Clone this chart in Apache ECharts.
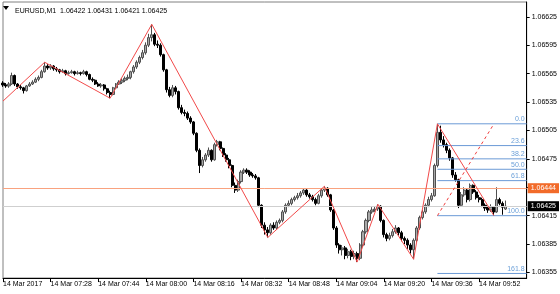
<!DOCTYPE html>
<html><head><meta charset="utf-8">
<script src="https://cdn.jsdelivr.net/npm/echarts@6/dist/echarts.min.js"></script>
<style>html,body{margin:0;padding:0;background:#fff}#c{width:560px;height:294px}</style>
</head><body><div id="c"></div>
<script>
// ---------- data ----------
const symbolTitle = 'EURUSD,M1';
const lastQuote = ['1.06422', '1.06431', '1.06421', '1.06425'];
const slotCount = 177; // minute slots visible (incl. empty right shift)
const xTickLabels = ['14 Mar 2017', '14 Mar 07:28', '14 Mar 07:44', '14 Mar 08:00', '14 Mar 08:16',
  '14 Mar 08:32', '14 Mar 08:48', '14 Mar 09:04', '14 Mar 09:20', '14 Mar 09:36', '14 Mar 09:52'];
const yLabelValues = [1.06355, 1.06385, 1.06415, 1.06475, 1.06505, 1.06535, 1.06565, 1.06595, 1.06625];
const yTickValues = [1.06355, 1.06385, 1.06415, 1.06445, 1.06475, 1.06505, 1.06535, 1.06565, 1.06595, 1.06625];
const yMin = 1.063492, yMax = 1.066406;

const opens = [
1.06555,1.06553,1.06552,1.06554,1.06563,1.06554,1.06551,1.06550,1.06547,1.06552,
1.06554,1.06556,1.06559,1.06561,1.06567,1.06573,1.06571,1.06573,1.06570,1.06569,
1.06567,1.06568,1.06565,1.06566,1.06567,1.06565,1.06566,1.06565,1.06567,1.06564,
1.06559,1.06558,1.06554,1.06552,1.06553,1.06549,1.06545,1.06543,1.06550,1.06554,
1.06556,1.06558,1.06560,1.06561,1.06567,1.06572,1.06577,1.06582,1.06587,1.06595,
1.06603,1.06606,1.06596,1.06595,1.06585,1.06569,1.06548,1.06542,1.06550,1.06546,
1.06529,1.06524,1.06523,1.06518,1.06514,1.06502,1.06484,1.06468,1.06474,1.06479,
1.06484,1.06474,1.06490,1.06493,1.06486,1.06479,1.06474,1.06468,1.06447,1.06442,
1.06451,1.06461,1.06463,1.06461,1.06458,1.06457,1.06455,1.06426,1.06405,1.06400,
1.06397,1.06405,1.06402,1.06408,1.06410,1.06419,1.06426,1.06428,1.06432,1.06434,
1.06436,1.06439,1.06442,1.06437,1.06435,1.06432,1.06428,1.06436,1.06442,1.06444,
1.06437,1.06421,1.06402,1.06384,1.06379,1.06381,1.06373,1.06377,1.06372,1.06375,
1.06370,1.06384,1.06398,1.06410,1.06419,1.06421,1.06422,1.06425,1.06410,1.06395,
1.06391,1.06394,1.06398,1.06402,1.06397,1.06391,1.06389,1.06384,1.06379,1.06389,
1.06402,1.06413,1.06419,1.06426,1.06432,1.06436,1.06468,1.06503,1.06495,1.06490,
1.06484,1.06476,1.06458,1.06453,1.06426,1.06437,1.06442,1.06432,1.06447,1.06440,
1.06434,1.06432,1.06426,1.06423,1.06421,1.06424,1.06419,1.06432,1.06428,1.06422];
const closes = [
1.06553,1.06552,1.06554,1.06563,1.06554,1.06551,1.06550,1.06547,1.06552,1.06554,
1.06556,1.06559,1.06561,1.06567,1.06573,1.06571,1.06573,1.06570,1.06569,1.06567,
1.06568,1.06565,1.06566,1.06567,1.06565,1.06566,1.06565,1.06567,1.06564,1.06559,
1.06558,1.06554,1.06552,1.06553,1.06549,1.06545,1.06543,1.06550,1.06554,1.06556,
1.06558,1.06560,1.06561,1.06567,1.06572,1.06577,1.06582,1.06587,1.06595,1.06603,
1.06606,1.06596,1.06595,1.06585,1.06569,1.06548,1.06542,1.06550,1.06546,1.06529,
1.06524,1.06523,1.06518,1.06514,1.06502,1.06484,1.06468,1.06474,1.06479,1.06484,
1.06474,1.06490,1.06493,1.06486,1.06479,1.06474,1.06468,1.06447,1.06442,1.06451,
1.06461,1.06463,1.06461,1.06458,1.06457,1.06455,1.06426,1.06405,1.06400,1.06397,
1.06405,1.06402,1.06408,1.06410,1.06419,1.06426,1.06428,1.06432,1.06434,1.06436,
1.06439,1.06442,1.06437,1.06435,1.06432,1.06428,1.06436,1.06442,1.06444,1.06437,
1.06421,1.06402,1.06384,1.06379,1.06381,1.06373,1.06377,1.06372,1.06375,1.06370,
1.06384,1.06398,1.06410,1.06419,1.06421,1.06422,1.06425,1.06410,1.06395,1.06391,
1.06394,1.06398,1.06402,1.06397,1.06391,1.06389,1.06384,1.06379,1.06389,1.06402,
1.06413,1.06419,1.06426,1.06432,1.06436,1.06468,1.06503,1.06495,1.06490,1.06484,
1.06476,1.06458,1.06453,1.06426,1.06437,1.06442,1.06432,1.06447,1.06440,1.06434,
1.06432,1.06426,1.06423,1.06421,1.06424,1.06419,1.06432,1.06428,1.06424,1.06425];
const highs = [
1.06557,1.06555,1.06556,1.06566,1.06564,1.06555,1.06553,1.06551,1.06553,1.06556,
1.06558,1.06561,1.06563,1.06569,1.06577,1.06575,1.06575,1.06574,1.06572,1.06570,
1.06570,1.06569,1.06568,1.06569,1.06568,1.06568,1.06567,1.06569,1.06568,1.06565,
1.06561,1.06559,1.06556,1.06555,1.06554,1.06550,1.06547,1.06551,1.06555,1.06558,
1.06560,1.06562,1.06564,1.06568,1.06574,1.06579,1.06584,1.06590,1.06598,1.06607,
1.06617,1.06608,1.06600,1.06597,1.06586,1.06570,1.06551,1.06553,1.06552,1.06547,
1.06532,1.06527,1.06525,1.06520,1.06515,1.06503,1.06486,1.06477,1.06481,1.06487,
1.06485,1.06492,1.06495,1.06494,1.06487,1.06481,1.06476,1.06469,1.06450,1.06453,
1.06463,1.06465,1.06465,1.06463,1.06460,1.06459,1.06456,1.06427,1.06408,1.06403,
1.06407,1.06408,1.06410,1.06412,1.06421,1.06428,1.06431,1.06434,1.06436,1.06439,
1.06441,1.06444,1.06443,1.06439,1.06437,1.06434,1.06438,1.06444,1.06446,1.06445,
1.06438,1.06422,1.06404,1.06386,1.06384,1.06383,1.06380,1.06379,1.06378,1.06377,
1.06386,1.06400,1.06412,1.06421,1.06424,1.06425,1.06427,1.06426,1.06411,1.06397,
1.06397,1.06401,1.06405,1.06403,1.06399,1.06393,1.06391,1.06386,1.06391,1.06404,
1.06415,1.06421,1.06428,1.06435,1.06439,1.06470,1.06512,1.06510,1.06499,1.06492,
1.06486,1.06477,1.06461,1.06454,1.06440,1.06445,1.06444,1.06449,1.06448,1.06442,
1.06437,1.06434,1.06428,1.06425,1.06427,1.06425,1.06445,1.06434,1.06430,1.06431];
const lows = [
1.06551,1.06550,1.06550,1.06553,1.06552,1.06549,1.06548,1.06544,1.06546,1.06551,
1.06553,1.06555,1.06557,1.06560,1.06566,1.06569,1.06569,1.06568,1.06567,1.06565,
1.06566,1.06563,1.06564,1.06565,1.06563,1.06564,1.06563,1.06564,1.06562,1.06558,
1.06556,1.06553,1.06551,1.06550,1.06547,1.06543,1.06539,1.06542,1.06549,1.06553,
1.06554,1.06556,1.06558,1.06559,1.06565,1.06570,1.06575,1.06580,1.06585,1.06593,
1.06599,1.06594,1.06592,1.06583,1.06567,1.06545,1.06540,1.06540,1.06543,1.06527,
1.06522,1.06520,1.06516,1.06512,1.06500,1.06482,1.06460,1.06466,1.06472,1.06477,
1.06472,1.06473,1.06488,1.06484,1.06477,1.06472,1.06465,1.06445,1.06439,1.06440,
1.06449,1.06459,1.06459,1.06456,1.06455,1.06453,1.06424,1.06402,1.06395,1.06392,
1.06395,1.06400,1.06400,1.06406,1.06408,1.06417,1.06424,1.06426,1.06430,1.06432,
1.06434,1.06437,1.06435,1.06433,1.06430,1.06426,1.06427,1.06434,1.06440,1.06435,
1.06419,1.06400,1.06381,1.06375,1.06373,1.06369,1.06370,1.06368,1.06369,1.06366,
1.06368,1.06382,1.06396,1.06408,1.06417,1.06419,1.06420,1.06408,1.06392,1.06388,
1.06389,1.06392,1.06396,1.06394,1.06388,1.06385,1.06380,1.06375,1.06369,1.06387,
1.06400,1.06411,1.06417,1.06424,1.06430,1.06435,1.06466,1.06492,1.06487,1.06481,
1.06473,1.06455,1.06451,1.06423,1.06425,1.06435,1.06429,1.06430,1.06438,1.06432,
1.06429,1.06424,1.06420,1.06418,1.06419,1.06415,1.06418,1.06426,1.06416,1.06421];

const zigIdx = [0, 14, 36, 50, 89, 108, 119, 126, 138, 146, 165];
const zigVal = [1.06536, 1.06577, 1.06539, 1.06617, 1.06392, 1.06446, 1.06366, 1.06427, 1.06369, 1.06512, 1.06415];

const fibLevels = ['0.0', '23.6', '38.2', '50.0', '61.8', '100.0', '161.8'];
const fibPrices = [1.06512, 1.06489, 1.06475, 1.06464, 1.06452, 1.06415, 1.06354];
const fibStartIdx = 146, fibEndIdx = 176;
const fibTrendIdx = [146, 165];
const fibTrendVal = [1.06415, 1.06512];

const alertPrice = 1.06444;
const bidPrice = 1.06425;

// ---------- chart ----------
const FONT = "'Liberation Sans', Arial, sans-serif";
const FIB_LINE = '#6b9ad6';
const categories = [];
for (let i = 0; i < slotCount; i++) categories.push(String(i));
const candleData = opens.map((o, i) => [o, closes[i], lows[i], highs[i]]);
const zigData = zigIdx.map((x, i) => [x, zigVal[i]]);
const isTick = (i) => i % 16 === 0 && i / 16 < xTickLabels.length;

const priceLabel = (bg) => ({ show: true, position: 'end', distance: 1, color: '#fff', backgroundColor: bg,
  padding: [2, 3, 1, 3], fontSize: 7, fontFamily: FONT });

const priceMarks = [
  [{ coord: [0, alertPrice], lineStyle: { color: '#f9a27f', width: 1, type: 'solid' },
     label: Object.assign(priceLabel('#f26b2a'), { formatter: alertPrice.toFixed(5) }) },
   { coord: [fibEndIdx, alertPrice] }],
  [{ coord: [0, bidPrice], lineStyle: { color: '#cfcfcf', width: 1, type: 'solid' },
     label: Object.assign(priceLabel('#000000'), { formatter: bidPrice.toFixed(5) }) },
   { coord: [fibEndIdx, bidPrice] }]
];

const fibSeries = fibLevels.map((lv, k) => ({
  type: 'line', symbol: 'none', z: 4, silent: true,
  color: FIB_LINE,
  lineStyle: { color: FIB_LINE, width: 1 },
  endLabel: { show: true, formatter: lv, distance: 0, align: 'right', verticalAlign: 'bottom', offset: [-2, -1],
              color: '#6a9fd8', fontSize: 7, fontFamily: FONT },
  data: [[fibStartIdx, fibPrices[k]], [fibEndIdx, fibPrices[k]]]
}));

const chart = echarts.init(document.getElementById('c'), null, { renderer: 'canvas', width: 560, height: 294 });
chart.setOption({
  animation: false,
  backgroundColor: '#ffffff',
  title: {
    text: symbolTitle + '  ' + lastQuote.join(' '),
    left: 10, top: 3,
    textStyle: { fontSize: 7, fontWeight: 'normal', color: '#000', fontFamily: FONT }
  },
  graphic: [{ type: 'polygon', shape: { points: [[3, 6], [9, 6], [6, 10]] }, style: { fill: '#000' } }],
  grid: { left: 2, right: 32, top: 2, bottom: 16, show: true, borderColor: '#808080', borderWidth: 1 },
  xAxis: {
    type: 'category', data: categories, boundaryGap: false,
    axisLine: { show: true, lineStyle: { color: '#000' } },
    axisTick: { show: true, length: 4, interval: (i) => isTick(i), lineStyle: { color: '#000' } },
    axisLabel: {
      interval: (i) => isTick(i),
      formatter: (v, i) => xTickLabels[i / 16] || '',
      align: 'left', fontSize: 7, color: '#000', margin: 3, fontFamily: FONT
    },
    splitLine: { show: false }
  },
  yAxis: {
    type: 'value', position: 'right', min: yMin, max: yMax, scale: true,
    axisLine: { show: true, lineStyle: { color: '#000' } },
    axisTick: { show: true, length: 3, customValues: yTickValues, lineStyle: { color: '#000' } },
    axisLabel: { customValues: yLabelValues, formatter: (v) => v.toFixed(5), fontSize: 7, color: '#000', margin: 5, fontFamily: FONT },
    splitLine: { show: false }
  },
  series: [
    {
      type: 'line', data: [], symbol: 'none', z: 1,
      markLine: { silent: true, symbol: ['none', 'none'], animation: false, data: priceMarks }
    },
    {
      type: 'candlestick', data: candleData, barWidth: 2.6, z: 3,
      itemStyle: { color: '#a8a8a8', color0: '#000000', borderColor: '#505050', borderColor0: '#000000', borderWidth: 1 }
    },
    ...fibSeries,
    {
      type: 'line', data: zigData, symbol: 'none', z: 5,
      lineStyle: { color: '#f24a4a', width: 1 },
      markLine: {
        silent: true, symbol: ['none', 'none'], animation: false,
        data: [[
          { coord: [fibTrendIdx[0], fibTrendVal[0]], lineStyle: { color: '#f04040', type: [3, 3], width: 1 }, label: { show: false } },
          { coord: [fibTrendIdx[1], fibTrendVal[1]] }
        ]]
      }
    }
  ]
});
</script>
</body></html>
